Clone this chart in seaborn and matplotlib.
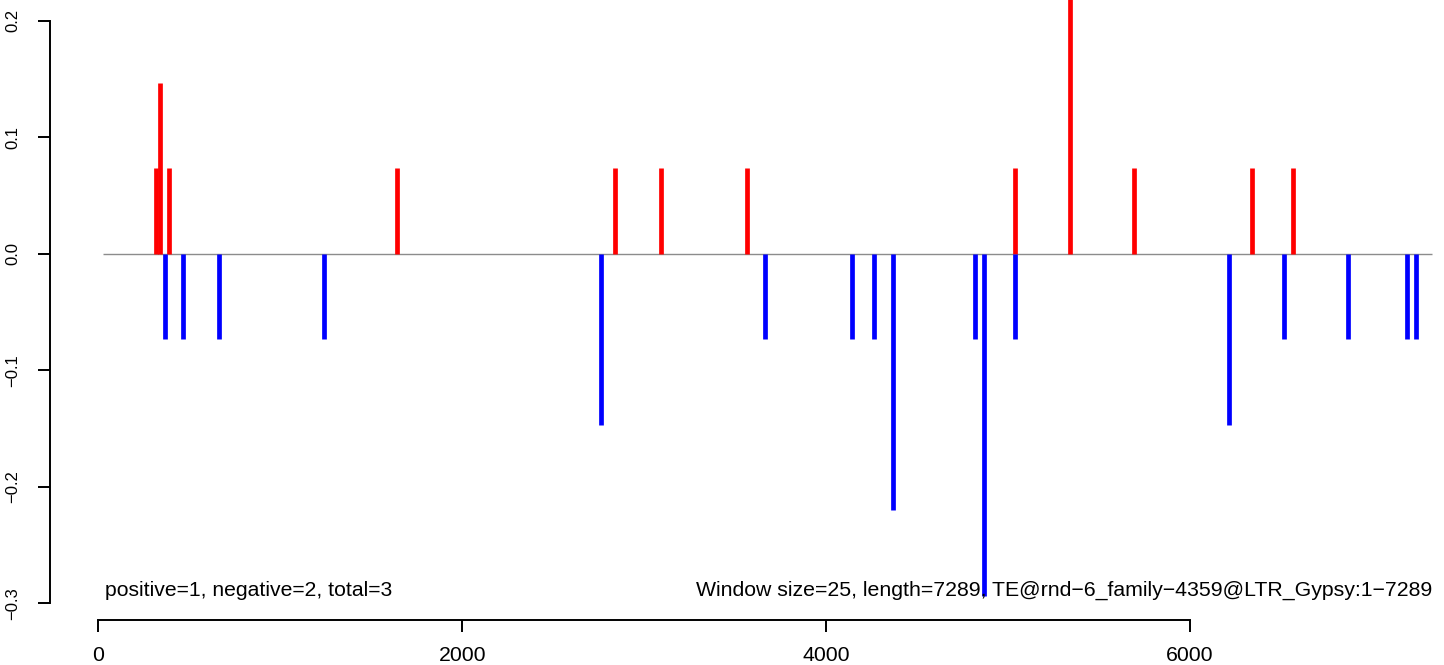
import numpy as np
import pandas as pd
import matplotlib
matplotlib.use("Agg")
import matplotlib.pyplot as plt
import seaborn as sns

# ---- data ----
pos_x = [318, 340, 389, 1642, 2841, 3094, 3566, 5040, 5342, 5694, 6342, 6568]
pos_y = [0.0733, 0.1466, 0.0733, 0.0733, 0.0733, 0.0733, 0.0733, 0.0733,
         0.2199, 0.0733, 0.0733, 0.0733]
neg_x = [367, 466, 664, 1241, 2764, 3665, 4143, 4264, 4369, 4820, 4869, 5040,
         6216, 6518, 6871, 7194, 7244]
neg_y = [-0.0733, -0.0733, -0.0733, -0.0733, -0.1466, -0.0733, -0.0733, -0.0733,
         -0.2199, -0.0733, -0.2932, -0.0733, -0.1466, -0.0733, -0.0733, -0.0733,
         -0.0733]
baseline_span = [25, 7331]
x_ticks = [0, 2000, 4000, 6000]
y_ticks = [-0.3, -0.2, -0.1, 0.0, 0.1, 0.2]
y_tick_labels = ["\u22120.3", "\u22120.2", "\u22120.1", "0.0", "0.1", "0.2"]
left_note = "positive=1, negative=2, total=3"
right_note = "Window size=25, length=7289, TE@rnd\u22126_family\u22124359@LTR_Gypsy:1\u22127289"

sns.set_style("white")
plt.rcParams['font.family'] = ['Liberation Sans', 'DejaVu Sans']

df = pd.DataFrame({
    'x': pos_x + neg_x,
    'y': pos_y + neg_y,
    'sign': ['pos'] * len(pos_x) + ['neg'] * len(neg_x),
})

fig = plt.figure(figsize=(14.44, 6.65), dpi=100)
ax = fig.add_axes([0, 0, 1, 1])
ax.set_xlim(-541, 7396)
ax.set_ylim(-0.3528, 0.2178)

# zero line
ax.hlines(0, baseline_span[0], baseline_span[1], color='#8c8c8c', linewidth=1.0, zorder=1)

# histogram-like bars (R type='h')
colors = {'pos': '#ff0000', 'neg': '#0000ff'}
for sign, grp in df.groupby('sign', sort=False):
    ax.vlines(grp['x'], 0, grp['y'], color=colors[sign], linewidth=3.4,
              capstyle='butt', zorder=2)

# R-style axes
for s in ['top', 'right']:
    ax.spines[s].set_visible(False)
ax.spines['left'].set_position(('data', -266.6))
ax.spines['left'].set_bounds(-0.3, 0.2)
ax.spines['bottom'].set_position(('data', -0.3142))
ax.spines['bottom'].set_bounds(0, 6000)
for s in ['left', 'bottom']:
    ax.spines[s].set_color('black')
    ax.spines[s].set_linewidth(1.4)

ax.set_xticks(x_ticks)
ax.set_xticklabels([str(t) for t in x_ticks])
ax.set_yticks(y_ticks)
ax.set_yticklabels(y_tick_labels, rotation=90, va='center')
ax.tick_params(axis='both', direction='out', length=8.6, width=1.4, color='black',
               labelcolor='black', left=True, bottom=True)
ax.tick_params(axis='x', pad=10, labelsize=15.3)
ax.tick_params(axis='y', pad=13, labelsize=12)
ax.grid(False)

ax.text(36, -0.29356, left_note, ha='left', va='baseline', fontsize=15.2, color='black')
ax.text(7331, -0.29356, right_note, ha='right', va='baseline', fontsize=15.3, color='black')

fig.savefig("out.png", dpi=100)
